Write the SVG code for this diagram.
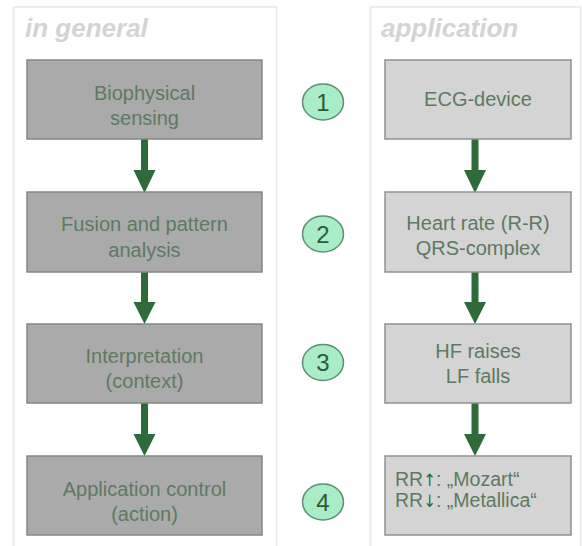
<svg xmlns="http://www.w3.org/2000/svg" width="582" height="546" viewBox="0 0 582 546">
<style>
.panel{fill:#ffffff;stroke:#e8e8e8;stroke-width:1.5}
.title{font-family:"Liberation Sans",Arial,sans-serif;font-size:26px;font-weight:bold;font-style:italic;fill:#d4d4d4}
.boxL{fill:#aaaaaa;stroke:#7e8a80;stroke-width:1.5}
.boxR{fill:#d4d4d4;stroke:#8e938f;stroke-width:1.5}
.t{font-family:"Liberation Sans",Arial,sans-serif;font-size:20px;fill:#5d7a62;text-anchor:middle}
.tl{font-family:"Liberation Sans",Arial,sans-serif;font-size:19.5px;fill:#5d7a62}
.ar{font-family:"DejaVu Sans Condensed","DejaVu Sans",sans-serif;font-size:17px;fill:#2e6b3a}
.circ{fill:#a8ecc8;stroke:#5c8f6a;stroke-width:1.5}
.num{font-family:"Liberation Sans",Arial,sans-serif;font-size:24px;fill:#2e5a3a;text-anchor:middle}
.conn{fill:#2e6a3a}
</style>
<rect width="582" height="546" fill="#ffffff"/>
<rect class="panel" x="13.5" y="7" width="263" height="545"/>
<rect class="panel" x="370.5" y="7" width="210" height="545"/>
<text class="title" x="25" y="37">in general</text>
<text class="title" x="381" y="37">application</text>

<g id="connectors">
<polygon class="conn" points="141,139 148,139 148,170 155.5,170 144.5,193 133.5,170 141,170"/>
<polygon class="conn" points="141,272 148,272 148,302 155.5,302 144.5,324 133.5,302 141,302"/>
<polygon class="conn" points="141,403 148,403 148,434 155.5,434 144.5,456 133.5,434 141,434"/>
<polygon class="conn" points="471.5,139 478.5,139 478.5,170 486,170 475,193 464,170 471.5,170"/>
<polygon class="conn" points="471.5,272 478.5,272 478.5,302 486,302 475,324 464,302 471.5,302"/>
<polygon class="conn" points="471.5,403 478.5,403 478.5,434 486,434 475,456 464,434 471.5,434"/>
</g>

<g id="g1"><rect class="boxL" x="27" y="60" width="235" height="79"/>
<text class="t" x="144.5" y="100">Biophysical</text><text class="t" x="144.5" y="125">sensing</text></g>
<g id="g2"><rect class="boxL" x="27" y="192" width="235" height="80"/>
<text class="t" x="144.5" y="231">Fusion and pattern</text><text class="t" x="144.5" y="257">analysis</text></g>
<g id="g3"><rect class="boxL" x="27" y="324" width="235" height="79"/>
<text class="t" x="144.5" y="363">Interpretation</text><text class="t" x="144.5" y="388">(context)</text></g>
<g id="g4"><rect class="boxL" x="27" y="456" width="235" height="79"/>
<text class="t" x="144.5" y="496">Application control</text><text class="t" x="144.5" y="521">(action)</text></g>

<g id="s1"><ellipse class="circ" cx="323" cy="102" rx="20.5" ry="18"/><text class="num" x="323" y="110.5">1</text></g>
<g id="s2"><ellipse class="circ" cx="323" cy="234" rx="20.5" ry="18"/><text class="num" x="323" y="242.5">2</text></g>
<g id="s3"><ellipse class="circ" cx="323" cy="362.5" rx="20.5" ry="18"/><text class="num" x="323" y="371">3</text></g>
<g id="s4"><ellipse class="circ" cx="323" cy="502" rx="20.5" ry="18"/><text class="num" x="323" y="510.5">4</text></g>

<g id="a1"><rect class="boxR" x="385" y="60" width="186" height="79"/>
<text class="t" x="478" y="106">ECG-device</text></g>
<g id="a2"><rect class="boxR" x="385" y="192" width="186" height="80"/>
<text class="t" x="478" y="230">Heart rate (R-R)</text><text class="t" x="478" y="255">QRS-complex</text></g>
<g id="a3"><rect class="boxR" x="385" y="324" width="186" height="79"/>
<text class="t" x="478" y="358">HF raises</text><text class="t" x="478" y="383">LF falls</text></g>
<g id="a4"><rect class="boxR" x="385" y="456" width="186" height="79"/>
<text class="tl" x="395" y="486">RR<tspan class="ar">↑</tspan>: „Mozart“</text>
<text class="tl" x="395" y="507">RR<tspan class="ar">↓</tspan>: „Metallica“</text></g>
</svg>
